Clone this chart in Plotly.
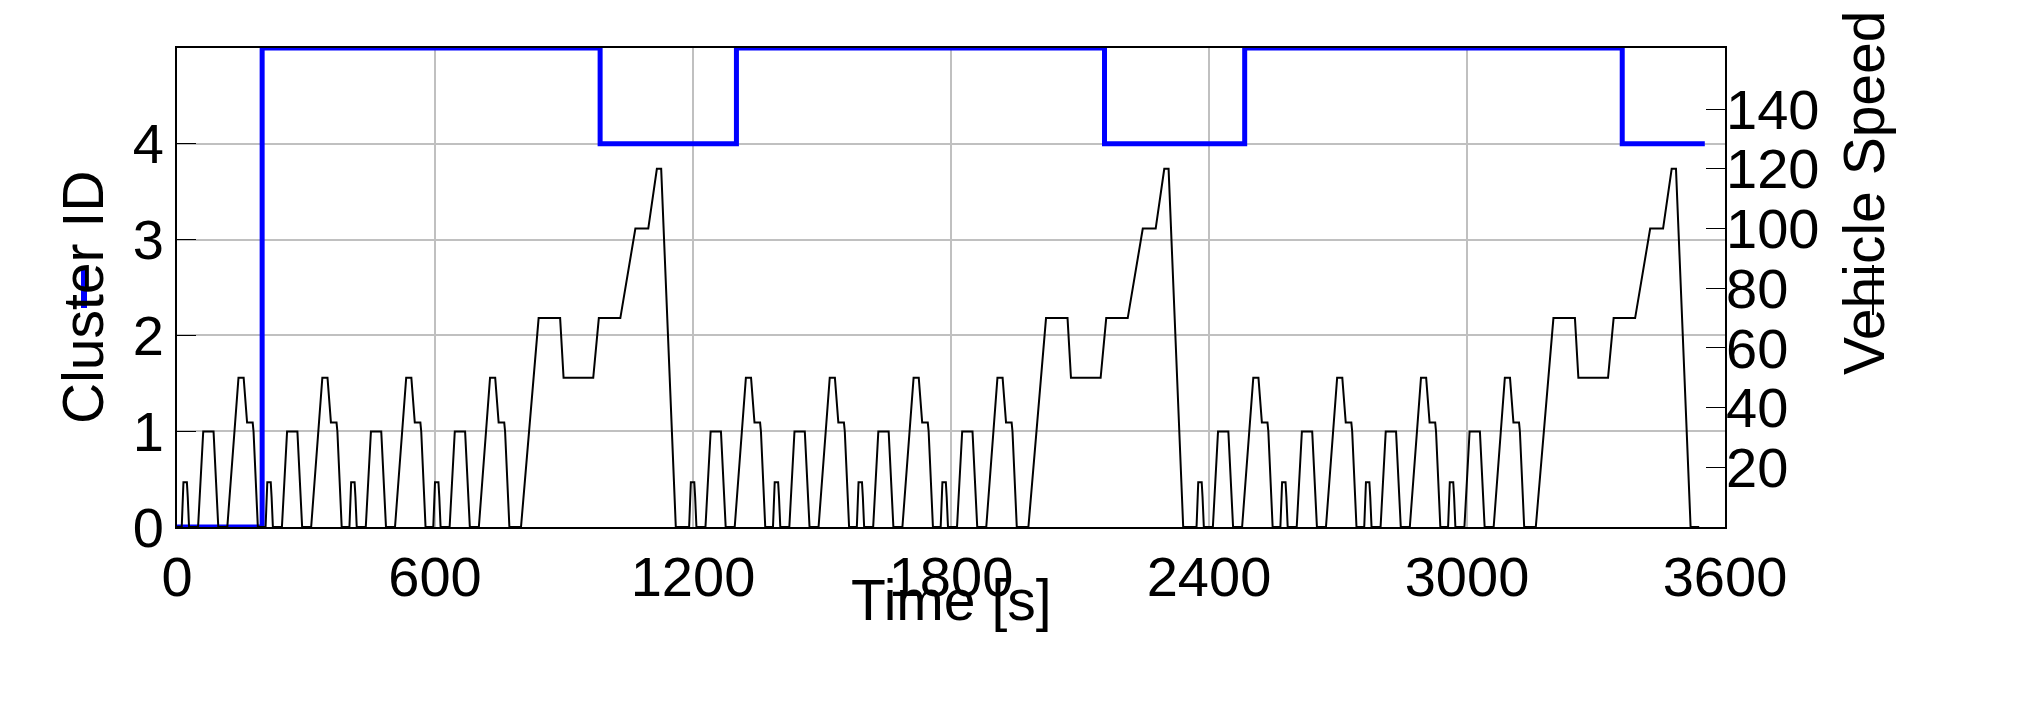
import plotly.graph_objects as go

# one NEDC cycle (breakpoints), repeated 3 times
cycle_t = [0, 11, 15, 23, 25, 28, 49, 61, 85, 93, 96, 117, 143, 155, 163, 176, 178, 188, 195]
cycle_v = [0, 0, 15, 15, 10, 0, 0, 32, 32, 10, 0, 0, 50, 50, 35, 35, 32, 0, 0]
eudc_t = [0, 20, 61, 111, 119, 188, 201, 251, 286, 316, 336, 346, 380, 400]
eudc_v = [0, 0, 70, 70, 50, 50, 70, 70, 100, 100, 120, 120, 0, 0]
n_ece = 4
ece_len = 195
cycle_len = 1180
n_cycles = 3

speed_t, speed_v = [], []
for c in range(n_cycles):
    for k in range(n_ece):
        for t, v in zip(cycle_t, cycle_v):
            speed_t.append(c * cycle_len + k * ece_len + t); speed_v.append(v)
    for t, v in zip(eudc_t, eudc_v):
        speed_t.append(c * cycle_len + n_ece * ece_len + t); speed_v.append(v)

cluster_t = [0, 198, 984, 1301, 2157, 2483, 3361, 3553]
cluster_v = [0, 5, 4, 5, 4, 5, 4, 4]

W, H = 2036, 718
L, R, T, B = 169, 319, 40, 199
pw, ph = W - L - R, H - T - B
def px(x): return (x - L) / pw
def py(y): return (H - B - y) / ph

F = "Liberation Sans, Arial, sans-serif"
fig = go.Figure()
fig.add_trace(go.Scatter(x=speed_t, y=speed_v, mode="lines", line=dict(color="black", width=2), yaxis="y2"))
fig.add_trace(go.Scatter(x=cluster_t, y=cluster_v, mode="lines", line=dict(color="#0000ff", width=5, shape="hv")))

fig.update_layout(
    width=W, height=H, margin=dict(l=L, r=R, t=T, b=B),
    plot_bgcolor="white", paper_bgcolor="white", showlegend=False,
    font=dict(family=F, size=56, color="black"),
    xaxis=dict(range=[0, 3600], tickvals=[0, 600, 1200, 1800, 2400, 3000, 3600],
               showgrid=True, gridcolor="#c0c0c0", gridwidth=2, showline=True, linecolor="black",
               linewidth=2, mirror=True, ticks="outside", ticklen=0, zeroline=False),
    yaxis=dict(range=[0, 5], tickvals=[0, 1, 2, 3, 4], showgrid=True, gridcolor="#c0c0c0", gridwidth=2,
               showline=True, linecolor="black", linewidth=2, mirror=True, ticks="inside", ticklen=19,
               tickcolor="black", zeroline=False),
    yaxis2=dict(range=[0, 160.5], tickvals=[20, 40, 60, 80, 100, 120, 140], overlaying="y", side="right",
                showgrid=False, showline=False, ticks="inside", ticklen=19, tickcolor="black", zeroline=False),
    annotations=[
        dict(text="Time [s]", x=0.5, y=py(626), xref="paper", yref="paper", showarrow=False, font=dict(size=57)),
        dict(text="Cluster ID", x=px(41), y=py(290), xref="paper", yref="paper", showarrow=False, textangle=-90, font=dict(size=57)),
        dict(text="Vehicle Speed [km/h]", x=px(1890), y=py(369), xref="paper", yref="paper", showarrow=False, textangle=-90, font=dict(size=57)),
    ],
    shapes=[
        dict(type="line", xref="paper", yref="paper", x0=px(76), x1=px(76), y0=py(260), y1=py(300), line=dict(color="#0000ff", width=6)),
        dict(type="line", xref="paper", yref="paper", x0=px(1865), x1=px(1865), y0=py(257), y1=py(307), line=dict(color="black", width=2)),
    ],
)
fig.write_html("out.html")
